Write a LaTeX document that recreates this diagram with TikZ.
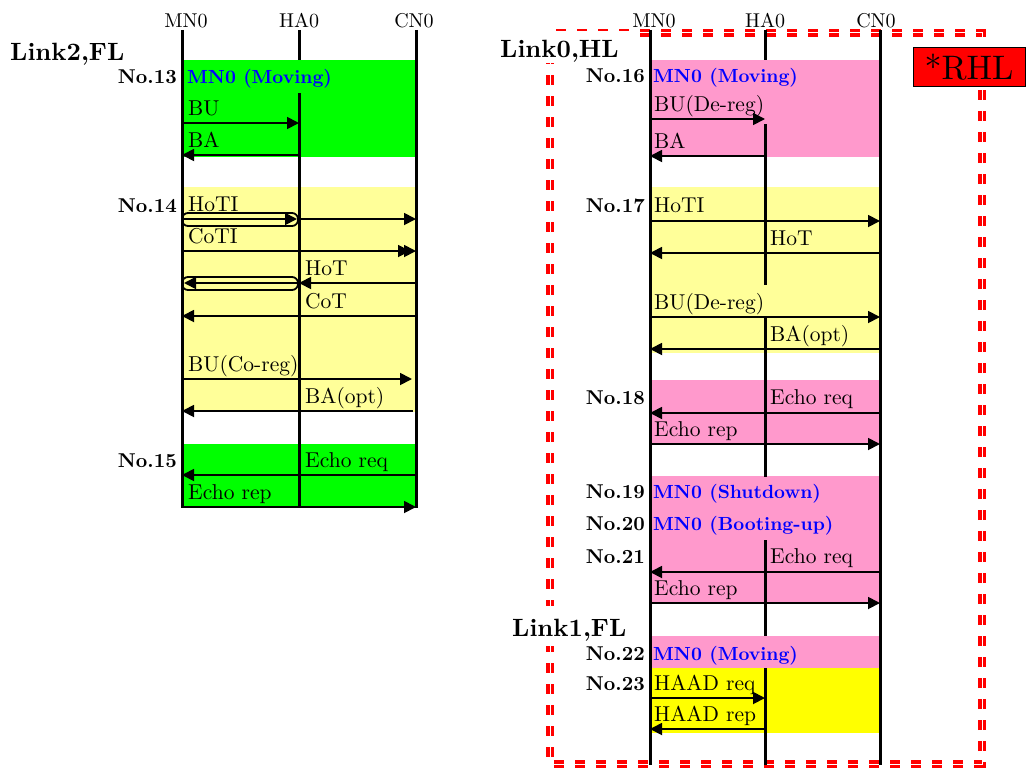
\documentclass[tikz,border=0pt]{standalone}
\usepackage{fontspec}
\setmainfont{lmroman10}[Extension=.otf, UprightFont=*-regular, BoldFont=*-bold, ItalicFont=*-italic, BoldItalicFont=*-bolditalic]
\usetikzlibrary{arrows.meta}
\definecolor{lgreen}{RGB}{0,255,0}
\definecolor{lyel}{RGB}{255,255,153}
\definecolor{lpink}{RGB}{255,153,204}
\definecolor{yel}{RGB}{255,255,0}
\definecolor{rred}{RGB}{255,0,0}
\definecolor{tblue}{RGB}{0,0,255}
\begin{document}
\begin{tikzpicture}[x=1pt,y=-1pt,
  life/.style={line width=3pt},
  msg/.style={line width=1.8pt,-{Triangle[length=12pt,width=12pt]}},
  mlabel/.style={anchor=base west,inner sep=0pt,font=\fontsize{21.5}{24}\selectfont},
  numlabel/.style={anchor=base east,inner sep=0pt,font=\bfseries\fontsize{20}{24}\selectfont},
  evlabel/.style={anchor=base west,inner sep=0pt,text=tblue,font=\bfseries\fontsize{19}{24}\selectfont},
  hdr/.style={anchor=base,inner sep=0pt,font=\fontsize{20}{22}\selectfont},
  linklabel/.style={anchor=base west,inner sep=0pt,font=\bfseries\fontsize{25}{28}\selectfont},
  tunnel/.style={line width=1.8pt,rounded corners=6pt},
  framedash/.style={dash pattern=on 10pt off 11pt},
  ]
\useasboundingbox (0,0) rectangle (1030,776);
% ---------- coloured phases ----------
\fill[lgreen] (182,60) rectangle (416,157);
\fill[lyel] (182,187) rectangle (416,412);
\fill[lgreen] (182,444) rectangle (416,508);
\fill[lpink] (650,60) rectangle (880,157);
\fill[lyel] (650,187) rectangle (880,353);
\fill[lpink] (650,380) rectangle (880,444);
\fill[lpink] (650,476) rectangle (880,604);
\fill[lpink] (650,636) rectangle (880,668);
\fill[yel] (650,668) rectangle (880,733);
% ---------- red dashed frame ----------
\draw[rred, line width=8pt, framedash] (550,33) rectangle (982,764);
\draw[white, line width=1pt, framedash] (550,33) rectangle (982,764);
\fill[white] (495,31.5) rectangle (638,63);
\fill[white] (505,606) rectangle (642,646);
\node[fill=rred, draw=black, line width=1pt, minimum width=112pt, minimum height=38pt, inner sep=0pt, font=\fontsize{34}{36}\selectfont] (rhl) at (969,67) {*RHL};
% ---------- headers ----------
\node[hdr] (hmnL) at (186,28) {MN0};
\node[hdr] (hhaL) at (299,28) {HA0};
\node[hdr] (hcnL) at (414,28) {CN0};
\node[hdr] (hmnR) at (654,28) {MN0};
\node[hdr] (hhaR) at (765,28) {HA0};
\node[hdr] (hcnR) at (876,28) {CN0};
% ---------- lifelines ----------
\draw[life] (182,30) -- (182,508);
\draw[life] (416,30) -- (416,508);
\draw[life] (299,30) -- (299,60);
\draw[life] (299,93) -- (299,508);
\draw[life] (650,30) -- (650,765);
\draw[life] (880,30) -- (880,765);
\draw[life] (765,30) -- (765,60);
\draw[life] (765,124) -- (765,285);
\draw[life] (765,317) -- (765,477);
\draw[life] (765,540) -- (765,636);
\draw[life] (765,668) -- (765,765);
% ---------- link labels ----------
\node[linklabel] (l2) at (10,60) {Link2,FL};
\node[linklabel] (l0) at (500,57) {Link0,HL};
\node[linklabel] (l1) at (512,636) {Link1,FL};
% ================= left diagram =================
\node[numlabel] (n13) at (177,83) {No.13};
\node[evlabel] (e13) at (187,83) {MN0 (Moving)};
\node[mlabel] at (188,115) {BU};
\draw[msg] (182,123) -- (299,123);
\node[mlabel] at (188,147) {BA};
\draw[msg] (299,155) -- (182,155);
\node[numlabel] (n14) at (177,212) {No.14};
\node[mlabel] at (188,211) {HoTI};
\draw[tunnel] (182,213) rectangle (298,226);
\draw[msg] (182,219) -- (297,219);
\draw[msg] (299,219) -- (416,219);
\node[mlabel] at (188,243) {CoTI};
\draw[msg] (182,251) -- (416,251);
\draw[msg] (182,251) -- (410,251);
\node[mlabel] at (305,275) {HoT};
\draw[msg] (416,283) -- (299,283);
\draw[tunnel] (182,277) rectangle (298,290);
\draw[msg] (298,283) -- (184,283);
\node[mlabel] at (305,308) {CoT};
\draw[msg] (416,316) -- (182,316);
\node[mlabel] at (188,371) {BU(Co-reg)};
\draw[msg] (182,379) -- (412,379);
\node[mlabel] at (305,403) {BA(opt)};
\draw[msg] (413,411) -- (182,411);
\node[numlabel] (n15) at (177,467) {No.15};
\node[mlabel] at (305,467) {Echo req};
\draw[msg] (416,475) -- (182,475);
\node[mlabel] at (188,499) {Echo rep};
\draw[msg] (182,507) -- (416,507);
% ================= right diagram =================
\node[numlabel] (n16) at (645,82) {No.16};
\node[evlabel] (e16) at (653,82) {MN0 (Moving)};
\node[mlabel] at (654,111) {BU(De-reg)};
\draw[msg] (650,119) -- (765,119);
\node[mlabel] at (654,148) {BA};
\draw[msg] (765,156) -- (650,156);
\node[numlabel] (n17) at (645,212) {No.17};
\node[mlabel] at (654,212) {HoTI};
\draw[msg] (650,221) -- (880,221);
\node[mlabel] at (770,245) {HoT};
\draw[msg] (880,253) -- (650,253);
\node[mlabel] at (654,309) {BU(De-reg)};
\draw[msg] (650,317) -- (880,317);
\node[mlabel] at (770,341) {BA(opt)};
\draw[msg] (880,349) -- (650,349);
\node[numlabel] (n18) at (645,404) {No.18};
\node[mlabel] at (770,404) {Echo req};
\draw[msg] (880,413) -- (650,413);
\node[mlabel] at (654,436) {Echo rep};
\draw[msg] (650,444) -- (880,444);
\node[numlabel] (n19) at (645,498) {No.19};
\node[evlabel] (e19) at (653,498) {MN0 (Shutdown)};
\node[numlabel] (n20) at (645,530) {No.20};
\node[evlabel] (e20) at (653,530) {MN0 (Booting-up)};
\node[numlabel] (n21) at (645,563) {No.21};
\node[mlabel] at (770,563) {Echo req};
\draw[msg] (880,572) -- (650,572);
\node[mlabel] at (654,595) {Echo rep};
\draw[msg] (650,603) -- (880,603);
\node[numlabel] (n22) at (645,660) {No.22};
\node[evlabel] (e22) at (653,660) {MN0 (Moving)};
\node[numlabel] (n23) at (645,690) {No.23};
\node[mlabel] at (654,690) {HAAD req};
\draw[msg] (650,698) -- (765,698);
\node[mlabel] at (654,721) {HAAD rep};
\draw[msg] (765,729) -- (650,729);
\end{tikzpicture}
\end{document}
